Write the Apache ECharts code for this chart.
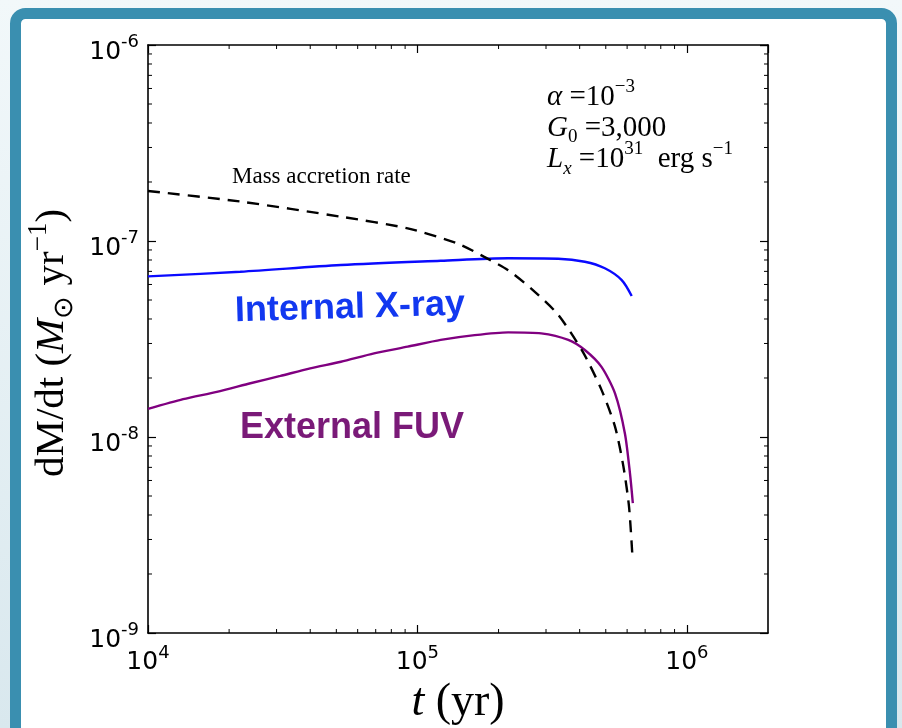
<!DOCTYPE html>
<html>
<head>
<meta charset="utf-8">
<script src="https://cdn.jsdelivr.net/npm/echarts@6/dist/echarts.min.js"></script>
<style>
  html, body { margin: 0; padding: 0; width: 902px; height: 728px; overflow: hidden; }
  #chart { width: 902px; height: 728px; }
</style>
</head>
<body>
<div id="chart"></div>
<script>
// Disc mass-loss history: accretion vs. photoevaporation (yr, Msun/yr)
const accretionTime = [1.0e4, 2.2e4, 5.2e4, 9.2e4, 1.41e5, 1.77e5, 2.17e5, 2.65e5, 3.33e5, 4.12e5, 4.82e5, 5.41e5, 5.81e5, 6.10e5, 6.28e5];
const accretionRate = [1.8e-7, 1.59e-7, 1.33e-7, 1.16e-7, 9.7e-8, 8.3e-8, 7.1e-8, 5.7e-8, 4.2e-8, 2.7e-8, 1.74e-8, 1.13e-8, 7.1e-9, 4.4e-9, 2.45e-9];

const xrayTime = [1.0e4, 2.2e4, 5.2e4, 1.22e5, 2.17e5, 3.33e5, 4.18e5, 4.96e5, 5.73e5, 6.24e5];
const xrayRate = [6.6e-8, 6.97e-8, 7.54e-8, 7.93e-8, 8.16e-8, 8.12e-8, 7.84e-8, 7.26e-8, 6.32e-8, 5.24e-8];

const fuvTime = [1.0e4, 1.35e4, 1.8e4, 2.4e4, 3.1e4, 4.0e4, 5.2e4, 6.9e4, 9.2e4, 1.22e5, 1.63e5, 2.17e5, 2.88e5, 3.63e5, 4.18e5, 4.82e5, 5.41e5, 5.89e5, 6.15e5, 6.30e5];
const fuvRate = [1.39e-8, 1.56e-8, 1.70e-8, 1.88e-8, 2.05e-8, 2.24e-8, 2.42e-8, 2.67e-8, 2.89e-8, 3.13e-8, 3.31e-8, 3.42e-8, 3.38e-8, 3.13e-8, 2.78e-8, 2.28e-8, 1.67e-8, 1.04e-8, 6.5e-9, 4.6e-9];

// Axis ranges and minor tick positions (2..9 within each decade)
const timeRange = [1e4, 2e6];
const rateRange = [1e-9, 1e-6];
const timeMinorTicks = [2e4, 3e4, 4e4, 5e4, 6e4, 7e4, 8e4, 9e4, 2e5, 3e5, 4e5, 5e5, 6e5, 7e5, 8e5, 9e5];
const rateMinorTicks = [2e-9, 3e-9, 4e-9, 5e-9, 6e-9, 7e-9, 8e-9, 9e-9, 2e-8, 3e-8, 4e-8, 5e-8, 6e-8, 7e-8, 8e-8, 9e-8, 2e-7, 3e-7, 4e-7, 5e-7, 6e-7, 7e-7, 8e-7, 9e-7];

const SERIF = '"Liberation Serif", "Times New Roman", serif';
const SANS = '"DejaVu Sans", sans-serif';

function zip(xs, ys) { return xs.map((x, i) => [x, ys[i]]); }

function powerLabel(v) {
  const lg = Math.log10(v);
  const e = Math.round(lg);
  if (Math.abs(lg - e) > 1e-6) return '';
  return '{b|10}{s|' + (e < 0 ? '-' + (-e) : e) + '}';
}
const powerRich = {
  b: { fontFamily: SANS, fontSize: 25, color: '#000', lineHeight: 31, verticalAlign: 'bottom' },
  s: { fontFamily: SANS, fontSize: 18, color: '#000', lineHeight: 14, verticalAlign: 'top' }
};

const axisLineStyle = { show: true, lineStyle: { color: '#000', width: 1.6 } };
const majorTick = { show: true, inside: true, length: 8, lineStyle: { color: '#000', width: 1.2 } };

function tickLine(x1, y1, x2, y2) {
  return { type: 'line', shape: { x1, y1, x2, y2 }, style: { stroke: '#000', lineWidth: 1 } };
}
function renderTimeMinor(params, api) {
  const cs = params.coordSys;
  const x = api.coord([api.value(0), api.value(1)])[0];
  const yb = cs.y + cs.height, yt = cs.y;
  return { type: 'group', children: [tickLine(x, yb, x, yb - 4), tickLine(x, yt, x, yt + 4)] };
}
function renderRateMinor(params, api) {
  const cs = params.coordSys;
  const y = api.coord([api.value(0), api.value(1)])[1];
  const xl = cs.x, xr = cs.x + cs.width;
  return { type: 'group', children: [tickLine(xl, y, xl + 4, y), tickLine(xr, y, xr - 4, y)] };
}

const mathRich = (size) => ({
  r: { fontFamily: SERIF, fontSize: size, color: '#000', lineHeight: Math.round(size * 1.3), verticalAlign: 'middle' },
  i: { fontFamily: SERIF, fontStyle: 'italic', fontSize: size, color: '#000', lineHeight: Math.round(size * 1.3), verticalAlign: 'middle' },
  sup: { fontFamily: SERIF, fontSize: Math.round(size * 0.66), color: '#000', lineHeight: Math.round(size * 0.66), verticalAlign: 'top' },
  sub: { fontFamily: SERIF, fontSize: Math.round(size * 0.66), color: '#000', lineHeight: Math.round(size * 0.66), verticalAlign: 'bottom' },
  subi: { fontFamily: SERIF, fontStyle: 'italic', fontSize: Math.round(size * 0.66), color: '#000', lineHeight: Math.round(size * 0.66), verticalAlign: 'bottom' }
});

const chart = echarts.init(document.getElementById('chart'), null, { renderer: 'canvas' });

chart.setOption({
  animation: false,
  backgroundColor: new echarts.graphic.LinearGradient(0, 0, 0, 1, [
    { offset: 0, color: '#f2f8fa' },
    { offset: 1, color: '#d9e8ee' }
  ]),
  grid: { left: 148, top: 45, width: 620, height: 588, containLabel: false, outerBoundsMode: 'none' },
  xAxis: [
    {
      type: 'log', logBase: 10, min: timeRange[0], max: timeRange[1], position: 'bottom',
      axisLine: axisLineStyle, axisTick: majorTick, splitLine: { show: false },
      axisLabel: { margin: 11, formatter: powerLabel, rich: powerRich, showMaxLabel: false },
      name: '{i|t}{r| (yr)}', nameLocation: 'middle', nameGap: 40,
      nameTextStyle: { rich: mathRich(46) }
    },
    {
      type: 'log', logBase: 10, min: timeRange[0], max: timeRange[1], position: 'top',
      axisLine: axisLineStyle, axisTick: majorTick, splitLine: { show: false }, axisLabel: { show: false }
    }
  ],
  yAxis: [
    {
      type: 'log', logBase: 10, min: rateRange[0], max: rateRange[1], position: 'left',
      axisLine: axisLineStyle, axisTick: majorTick, splitLine: { show: false },
      axisLabel: { margin: 9, formatter: powerLabel, rich: powerRich, padding: [8, 0, 0, 0] },
      name: '{r|dM/dt (}{i|M}{sub|\u2299}{r| yr}{sup|\u22121}{r|)}', nameLocation: 'middle', nameRotate: 90, nameGap: 64,
      nameTextStyle: { rich: mathRich(41), padding: [0, 8, 0, 0] }
    },
    {
      type: 'log', logBase: 10, min: rateRange[0], max: rateRange[1], position: 'right',
      axisLine: axisLineStyle, axisTick: majorTick, splitLine: { show: false }, axisLabel: { show: false }
    }
  ],
  graphic: [
    {
      type: 'rect', z: -10, silent: true,
      shape: { x: 15.5, y: 13.5, width: 876, height: 780, r: 10 },
      style: { fill: '#ffffff', stroke: '#3a8fb0', lineWidth: 11 }
    },
    {
      type: 'text', z: 10, left: 232, top: 165, silent: true,
      style: { text: 'Mass accretion rate', font: '23px ' + SERIF, fill: '#000' }
    },
    {
      type: 'text', z: 10, x: 547, y: 97, silent: true,
      style: { text: '{i|\u03b1}{r| =10}{sup|\u22123}', rich: mathRich(29), textVerticalAlign: 'middle', verticalAlign: 'middle' }
    },
    {
      type: 'text', z: 10, x: 547, y: 128, silent: true,
      style: { text: '{i|G}{sub|0}{r| =3,000}', rich: mathRich(29), textVerticalAlign: 'middle', verticalAlign: 'middle' }
    },
    {
      type: 'text', z: 10, x: 547, y: 159, silent: true,
      style: { text: '{i|L}{subi|x}{r| =10}{sup|31}{r|  erg s}{sup|\u22121}', rich: mathRich(29), textVerticalAlign: 'middle', verticalAlign: 'middle' }
    },
    {
      type: 'text', z: 10, x: 350, y: 308, rotation: 0.03, silent: true,
      style: {
        text: 'Internal X-ray', font: 'bold 36px "Liberation Sans", Arial, sans-serif',
        fill: '#1238f0', align: 'center', verticalAlign: 'middle'
      }
    },
    {
      type: 'text', z: 10, x: 352, y: 428, silent: true,
      style: {
        text: 'External FUV', font: 'bold 36px "Liberation Sans", Arial, sans-serif',
        fill: '#7a1a78', align: 'center', verticalAlign: 'middle'
      }
    }
  ],
  series: [
    {
      name: 'Internal X-ray', type: 'line', data: zip(xrayTime, xrayRate), smooth: 0.3,
      showSymbol: false, lineStyle: { color: '#0a0aff', width: 2.4 }, z: 3
    },
    {
      name: 'External FUV', type: 'line', data: zip(fuvTime, fuvRate), smooth: 0.25,
      showSymbol: false, lineStyle: { color: '#800080', width: 2.4 }, z: 3
    },
    {
      name: 'Mass accretion rate', type: 'line', data: zip(accretionTime, accretionRate), smooth: 0.25,
      showSymbol: false, lineStyle: { color: '#000', width: 2.4, type: [12, 8] }, z: 4
    },
    {
      type: 'custom', renderItem: renderTimeMinor, silent: true, clip: false,
      data: timeMinorTicks.map(t => [t, rateRange[0]])
    },
    {
      type: 'custom', renderItem: renderRateMinor, silent: true, clip: false,
      data: rateMinorTicks.map(r => [timeRange[0], r])
    }
  ]
});
</script>
</body>
</html>
